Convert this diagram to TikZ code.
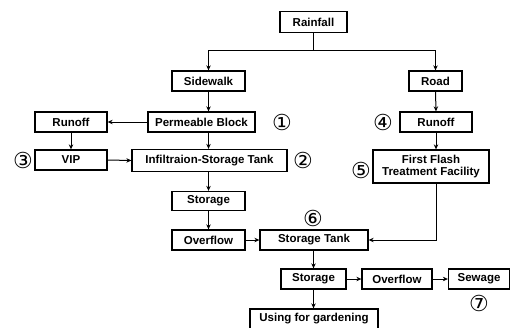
\documentclass[tikz,border=0pt]{standalone}
\usepackage{fontspec}
\setmainfont{Liberation Sans}
\newfontfamily\circfont{DejaVu Sans}
\usetikzlibrary{arrows.meta}
\begin{document}
\begin{tikzpicture}[x=1pt,y=1pt,
  box/.style={draw,line width=1.3pt,inner sep=0pt,font=\fontsize{11.5}{12.5}\selectfont\bfseries,align=center},
  arr/.style={line width=1pt,-{Stealth[length=5pt,width=4.5pt]}},
  ln/.style={line width=1pt},
  num/.style={inner sep=0pt,font=\circfont\fontsize{22}{22}\selectfont}]
\useasboundingbox (0,0) rectangle (510,327);
\node[box,minimum width=67pt,minimum height=21pt] (rain) at (313.5,305) {Rainfall};
\node[box,minimum width=73pt,minimum height=20pt] (side) at (208.5,246) {Sidewalk};
\node[box,minimum width=53pt,minimum height=20pt] (road) at (435.5,246) {Road};
\node[box,minimum width=72pt,minimum height=20pt] (runL) at (71,205) {Runoff};
\node[box,minimum width=107pt,minimum height=20pt] (perm) at (201.5,205) {Permeable Block};
\node[box,minimum width=72pt,minimum height=20pt] (runR) at (436,205) {Runoff};
\node[box,minimum width=72pt,minimum height=20pt] (vip) at (71,167) {VIP};
\node[box,minimum width=155pt,minimum height=22pt] (infil) at (209.5,166.5) {Infiltraion-Storage Tank};
\node[box,minimum width=116pt,minimum height=33pt] (ff) at (431,160.5) {First Flash\\Treatment Facility};
\node[box,minimum width=73pt,minimum height=19pt] (st1) at (208.5,126) {Storage};
\node[box,minimum width=73pt,minimum height=20pt] (ov1) at (208.5,87) {Overflow};
\node[box,minimum width=108pt,minimum height=20pt] (tank) at (314,87) {Storage Tank};
\node[box,minimum width=65pt,minimum height=20pt] (st2) at (313.5,48) {Storage};
\node[box,minimum width=70pt,minimum height=20pt] (ov2) at (397,48) {Overflow};
\node[box,minimum width=61pt,minimum height=20pt] (sew) at (479,48) {Sewage};
\node[box,minimum width=128pt,minimum height=20pt] (use) at (314,8) {Using for gardening};
\node[num] (n1) at (282,205) {①};
\node[num] (n2) at (303,167) {②};
\node[num] (n3) at (23,167) {③};
\node[num] (n4) at (383,205) {④};
\node[num] (n5) at (361,157) {⑤};
\node[num] (n6) at (313,109) {⑥};
\node[num] (n7) at (479,24) {⑦};
\coordinate (j) at (313.5,276);
\draw[ln] (rain.south) -- (j);
\draw[arr] (j) -| (side.north);
\draw[arr] (j) -| (road.north);
\draw[arr] (side.south) -- (side.south |- perm.north);
\draw[arr] (perm.west) -- (runL.east);
\draw[arr] (runL.south) -- (vip.north);
\draw[arr] (vip.east) -- (infil.west);
\draw[arr] (perm.south -| side.south) -- (infil.north -| side.south);
\draw[arr] (infil.south -| st1.north) -- (st1.north);
\draw[arr] (st1.south) -- (ov1.north);
\draw[arr] (ov1.east) -- (tank.west);
\draw[arr] (road.south) -- (runR.north);
\draw[arr] (runR.south) -- (runR.south |- ff.north);
\draw[arr] (ff.south -| runR.south) |- (tank.east);
\draw[arr] (tank.south -| st2.north) -- (st2.north);
\draw[arr] (st2.east) -- (ov2.west);
\draw[arr] (ov2.east) -- (sew.west);
\draw[arr] (st2.south) -- (st2.south |- use.north);
\end{tikzpicture}
\end{document}
